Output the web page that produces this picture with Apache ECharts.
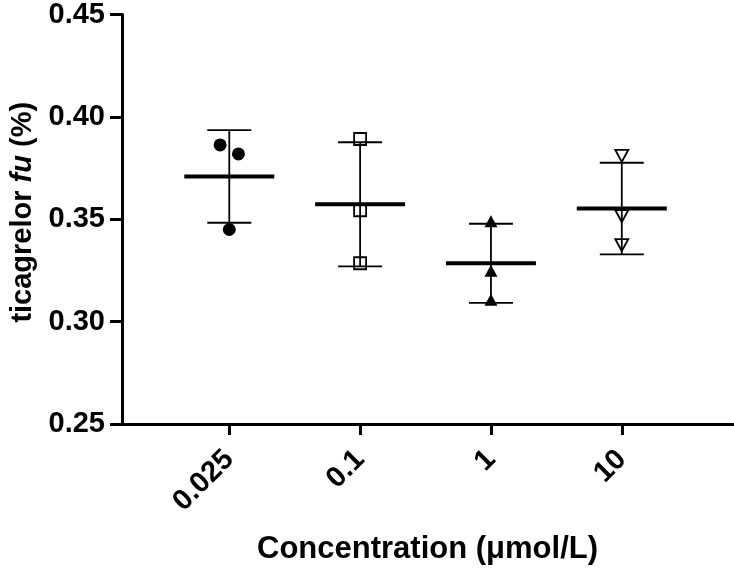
<!DOCTYPE html>
<html>
<head>
<meta charset="utf-8">
<script src="https://cdn.jsdelivr.net/npm/echarts@6/dist/echarts.min.js"></script>
<style>html,body{margin:0;padding:0;background:#fff}#c{width:734px;height:570px}</style>
</head>
<body>
<div id="c"></div>
<script>
const categories = ['0.025', '0.1', '1', '10'];
const groupX = [1, 2, 3, 4];
const pts025 = [0.3863, 0.3819, 0.3450];
const jitter025 = [-0.07, 0.07, 0];
const pts01 = [0.3892, 0.3544, 0.3285];
const pts1 = [0.3490, 0.3248, 0.3107];
const pts10 = [0.3810, 0.3515, 0.3374];
const means = [0.3709, 0.3573, 0.3285, 0.3552];
const sds = [0.0226, 0.0303, 0.0193, 0.0224];

const FONT = '"Liberation Sans", Arial, sans-serif';

const chart = echarts.init(document.getElementById('c'), null, {renderer: 'canvas'});

function scatterData(xc, vals, jit) {
  return vals.map((v, i) => [xc + (jit ? jit[i] : 0), v]);
}

const option = {
  animation: false,
  backgroundColor: '#fff',
  grid: {left: 115, right: 1, top: 13, bottom: 146, containLabel: false},
  xAxis: {
    type: 'value',
    min: 0.18,
    max: 4.85,
    name: 'Concentration (μmol/L)',
    nameLocation: 'middle',
    nameGap: 110,
    nameTextStyle: {fontFamily: FONT, fontWeight: 'bold', fontSize: 31, color: '#000'},
    axisLine: {lineStyle: {color: '#000', width: 3}},
    axisTick: {show: true, customValues: groupX, length: 11, lineStyle: {color: '#000', width: 3}},
    axisLabel: {
      customValues: groupX,
      formatter: v => categories[Math.round(v) - 1],
      rotate: 45,
      margin: 31,
      fontFamily: FONT, fontWeight: 'bold', fontSize: 29, color: '#000'
    },
    splitLine: {show: false}
  },
  yAxis: {
    type: 'value',
    min: 0.25,
    max: 0.45,
    interval: 0.05,
    name: 'ticagrelor {i|fu} (%)',
    nameLocation: 'middle',
    nameGap: 85,
    nameTextStyle: {
      fontFamily: FONT, fontWeight: 'bold', fontSize: 29, color: '#000',
      padding: [0, 0, 0, 14],
      rich: {i: {fontFamily: FONT, fontWeight: 'bold', fontStyle: 'italic', fontSize: 29, color: '#000'}}
    },
    axisLine: {show: true, lineStyle: {color: '#000', width: 3}},
    axisTick: {show: true, length: 12, lineStyle: {color: '#000', width: 3}},
    axisLabel: {
      formatter: v => v.toFixed(2),
      margin: 17,
      fontFamily: FONT, fontWeight: 'bold', fontSize: 29, color: '#000'
    },
    splitLine: {show: false}
  },
  series: [
    {
      type: 'custom',
      data: groupX.map((x, i) => [x, means[i], sds[i]]),
      z: 1,
      renderItem: function (params, api) {
        const x = api.value(0), m = api.value(1), sd = api.value(2);
        const c = api.coord([x, m]);
        const t = api.coord([x, m + sd]);
        const b = api.coord([x, m - sd]);
        const thin = {stroke: '#000', lineWidth: 1.8};
        return {
          type: 'group',
          children: [
            {type: 'line', shape: {x1: c[0], y1: t[1], x2: c[0], y2: b[1]}, style: thin},
            {type: 'line', shape: {x1: c[0] - 22, y1: t[1], x2: c[0] + 22, y2: t[1]}, style: thin},
            {type: 'line', shape: {x1: c[0] - 22, y1: b[1], x2: c[0] + 22, y2: b[1]}, style: thin},
            {type: 'line', shape: {x1: c[0] - 45, y1: c[1], x2: c[0] + 45, y2: c[1]}, style: {stroke: '#000', lineWidth: 4}}
          ]
        };
      }
    },
    {
      type: 'scatter', z: 3,
      data: scatterData(groupX[0], pts025, jitter025),
      symbol: 'circle', symbolSize: 13,
      itemStyle: {color: '#000', opacity: 1}
    },
    {
      type: 'scatter', z: 3,
      data: scatterData(groupX[1], pts01),
      symbol: 'rect', symbolSize: 12,
      itemStyle: {color: 'rgba(0,0,0,0)', borderColor: '#000', borderWidth: 1.8, opacity: 1}
    },
    {
      type: 'scatter', z: 3,
      data: scatterData(groupX[2], pts1),
      symbol: 'triangle', symbolSize: [13, 12],
      itemStyle: {color: '#000', opacity: 1}
    },
    {
      type: 'scatter', z: 3,
      data: scatterData(groupX[3], pts10),
      symbol: 'triangle', symbolSize: [13, 12], symbolRotate: 180,
      itemStyle: {color: 'rgba(0,0,0,0)', borderColor: '#000', borderWidth: 1.8, opacity: 1}
    }
  ]
};
chart.setOption(option);
</script>
</body>
</html>
